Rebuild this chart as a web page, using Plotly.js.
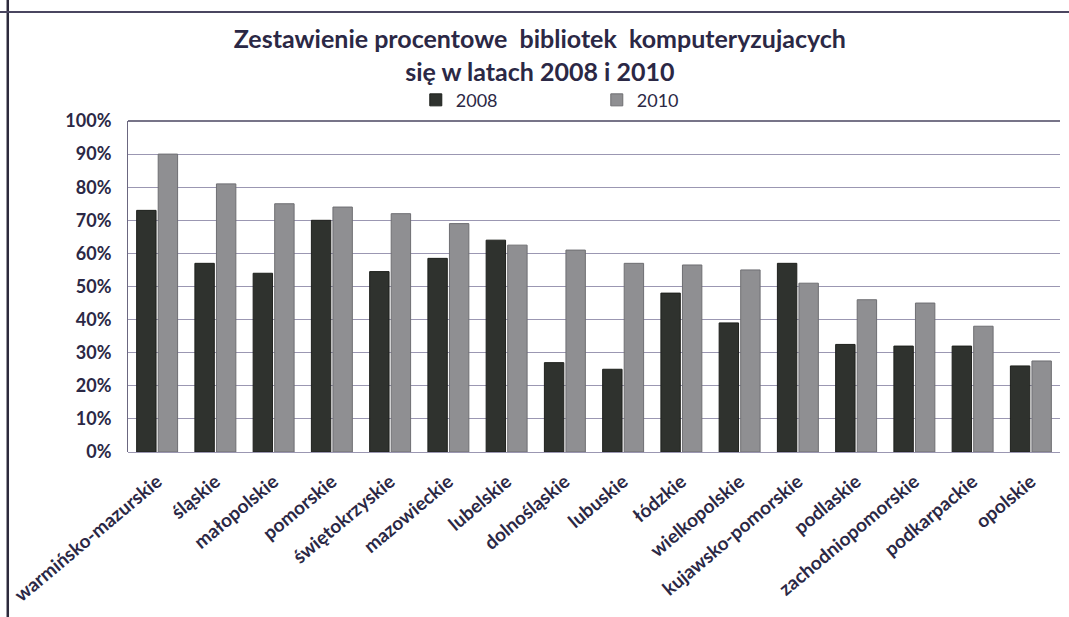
<!DOCTYPE html>
<html>
<head>
<meta charset="utf-8">
<script src="https://cdn.plot.ly/plotly-3.0.1.min.js"></script>
<style>
html,body{margin:0;padding:0;background:#fff;}
#chart{width:1069px;height:617px;}
</style>
</head>
<body>
<div id="chart"></div>
<script>
const categories = ["warmińsko-mazurskie","śląskie","małopolskie","pomorskie","świętokrzyskie","mazowieckie","lubelskie","dolnośląskie","lubuskie","łódzkie","wielkopolskie","kujawsko-pomorskie","podlaskie","zachodniopomorskie","podkarpackie","opolskie"];
const values2008 = [0.73,0.57,0.54,0.70,0.545,0.585,0.64,0.27,0.25,0.48,0.39,0.57,0.325,0.32,0.32,0.26];
const values2010 = [0.90,0.81,0.75,0.74,0.72,0.69,0.625,0.61,0.57,0.565,0.55,0.51,0.46,0.45,0.38,0.275];
const yTicks = [0,0.1,0.2,0.3,0.4,0.5,0.6,0.7,0.8,0.9,1.0];

const txt = '#2b2845';
const fontFam = 'Lato, "Open Sans", sans-serif';

const traces = [
  {type:'bar', name:'2008', x:categories, y:values2008,
   marker:{color:'#2f322e', line:{color:'#1e201c', width:1}}},
  {type:'bar', name:'2010', x:categories, y:values2010,
   marker:{color:'#8f8f92', line:{color:'#6e6e72', width:1}}}
];

const layout = {
  width:1069, height:617,
  margin:{l:128, r:9, t:121, b:165},
  paper_bgcolor:'#ffffff', plot_bgcolor:'#ffffff',
  font:{family:fontFam, color:txt},
  title:{text:'<b>Zestawienie procentowe  bibliotek  komputeryzujacych<br>się w latach 2008 i 2010</b>',
         x:0.505, xanchor:'center', y:0.922, yanchor:'middle',
         font:{size:25, color:txt, family:fontFam}},
  barmode:'group', bargap:0.26, bargroupgap:0.1,
  showlegend:true,
  legend:{orientation:'h', x:0.503, xanchor:'center', y:1.063, yanchor:'middle',
          font:{size:18, color:txt, family:fontFam}, entrywidth:136, itemwidth:30,
          bgcolor:'rgba(0,0,0,0)'},
  xaxis:{type:'category', tickangle:-40, tickfont:{size:19, color:txt, family:fontFam, weight:700},
         showgrid:false, showline:false, ticks:'', ticklabelstandoff:14, automargin:false},
  yaxis:{range:[0,1.0], tickvals:yTicks, tickformat:'.0%',
         tickfont:{size:18, color:txt, family:fontFam, weight:700},
         showgrid:true, gridcolor:'#9b97b2', gridwidth:1,
         showline:true, linecolor:'#6b6780', linewidth:1, mirror:false,
         zeroline:true, zerolinecolor:'#9b97b2', ticks:'', ticklabelstandoff:12, automargin:false},
  shapes:[
    {type:'line', xref:'paper', yref:'paper', x0:0, x1:1, y0:1, y1:1, line:{color:'#4a4660', width:1.5}},
    {type:'line', xref:'paper', yref:'paper', x0:-0.129, x1:-0.129, y0:-0.5, y1:1.37, line:{color:'#2c2a3c', width:2.5}},
    {type:'line', xref:'paper', yref:'paper', x0:-0.14, x1:1.01, y0:1.329, y1:1.329, line:{color:'#4a4660', width:2}}
  ]
};

Plotly.newPlot('chart', traces, layout, {displayModeBar:false, staticPlot:true});
</script>
</body>
</html>
